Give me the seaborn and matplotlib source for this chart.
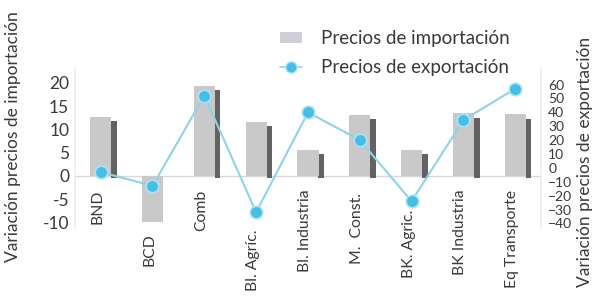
import numpy as np
import matplotlib
matplotlib.use("Agg")
import matplotlib.pyplot as plt
import seaborn as sns
from matplotlib.patches import Patch
from matplotlib.lines import Line2D

# === Data ===
categories = ["BND", "BCD", "Comb", "Bl. Agríc.", "Bl. Industria",
              "M.  Const.", "BK. Agric.", "BK Industria", "Eq Transporte"]
import_prices = [12.7, -10.0, 19.4, 11.6, 5.6, 13.1, 5.6, 13.5, 13.3]
export_prices = [-3, -13, 52, -32, 40, 20, -24, 34.5, 57]

# label top positions (left-axis units), staggered like the original
label_top = [-3.0, -12.3, -3.0, -11.6, -3.0, -3.7, -7.3, -3.0, -3.0]

sns.set_theme(style="white")
plt.rcParams["font.family"] = ["Lato", "DejaVu Sans"]
text_color = "#3a3a3a"

fig = plt.figure(figsize=(5.98, 3.03), dpi=100)
ax = fig.add_axes([0.125, 0.248, 0.78, 0.528])
x = np.arange(len(categories))

# shadow strips on the right side of positive bars
shadow_h = [v - 1.0 if v > 0 else 0 for v in import_prices]
ax.bar(x + 0.255, [h + 0.4 if h else 0 for h in shadow_h], bottom=-0.4,
       width=0.11, color="#626262", linewidth=0, zorder=1)
sns.barplot(x=categories, y=import_prices, ax=ax, color="#c9c9c9",
            width=0.41, saturation=1, linewidth=0, zorder=2)

ax.axhline(0, color="#d8d8d8", lw=1, zorder=0)
ax.set_xlim(-0.5, len(categories) - 0.5)
ax.set_ylim(-11.2, 23.2)
ax.set_yticks([-10, -5, 0, 5, 10, 15, 20])
ax.set_yticklabels(["-10", "-5", "0", "5", "10", "15", "20"])
ax.set_xticks([])
ax.set_xlabel("")
ax.tick_params(axis="y", labelsize=12.5, colors=text_color, pad=4, length=0)
ax.set_ylabel("Variación precios de importación", fontsize=12.5, color=text_color)
ax.yaxis.set_label_coords(-0.115, 0.57)

for i, (lab, top) in enumerate(zip(categories, label_top)):
    ax.text(i - 0.06, top, lab, rotation=90, ha="center", va="top",
            fontsize=11.3, color=text_color, clip_on=False)

for side in ["top", "bottom"]:
    ax.spines[side].set_visible(False)
for side in ["left", "right"]:
    ax.spines[side].set_color("#eeeeee")

# === Export prices on secondary axis ===
ax2 = ax.twinx()
sns.lineplot(x=x, y=export_prices, ax=ax2, color="#8fd4ec", lw=1.5,
             marker="o", markersize=9, markerfacecolor="#45bfe6",
             markeredgecolor="#a9e3f5", markeredgewidth=1.2, zorder=5)
ax2.set_ylim(-43.2, 72)
ax2.set_yticks(np.arange(-40, 61, 10))
ax2.tick_params(axis="y", labelsize=10, colors=text_color, pad=5, length=0)
ax2.set_ylabel("Variación precios de exportación", fontsize=12.5, color=text_color)
ax2.yaxis.set_label_coords(1.077, 0.41)
for side in ["top", "bottom", "left", "right"]:
    ax2.spines[side].set_visible(False)

handles = [
    Patch(facecolor="#cfcfd8", edgecolor="none"),
    Line2D([], [], color="#8fd4ec", lw=1.2, marker="o", markersize=8,
           markerfacecolor="#45bfe6", markeredgecolor="#a9e3f5"),
]
ax2.legend(handles, ["Precios de importación", "Precios de exportación"],
           loc="upper left", bbox_to_anchor=(0.468, 0.9),
           bbox_transform=fig.transFigure, frameon=False, fontsize=13.5,
           handlelength=1.2, handleheight=0.5, handletextpad=1.0,
           labelspacing=0.65, borderpad=0, borderaxespad=0,
           labelcolor=text_color)

fig.savefig("out.png", dpi=100)
